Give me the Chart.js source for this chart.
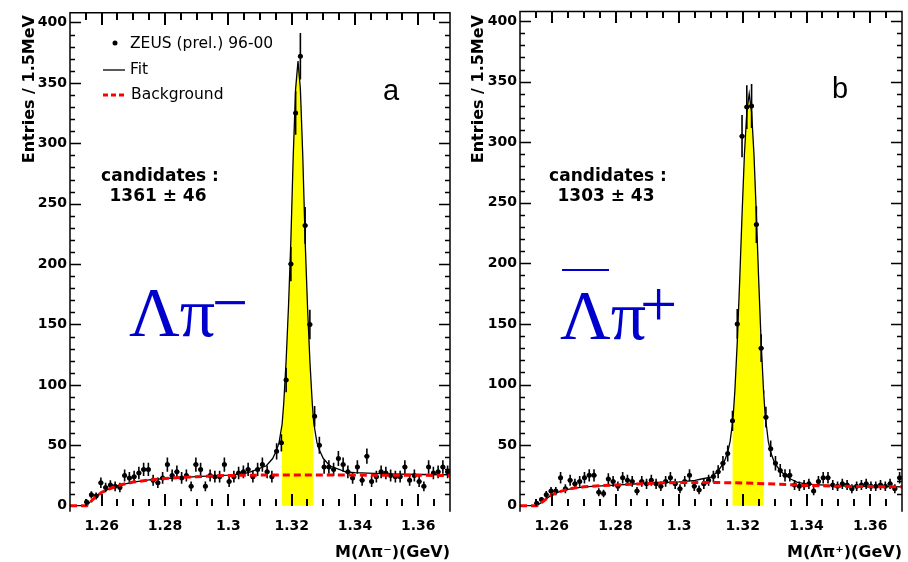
<!DOCTYPE html>
<html>
<head>
<meta charset="utf-8">
<script src="https://cdn.jsdelivr.net/npm/chart.js@4.4.0/dist/chart.umd.min.js"></script>
<style>
  html, body { margin: 0; padding: 0; background: #fff; }
  #wrap { position: relative; width: 908px; height: 562px; overflow: hidden; }
  .panel { position: absolute; top: 0; width: 454px; height: 562px; }
  #panelA { left: 0; }
  #panelB { left: 454px; }
  .ov { position: absolute; left: 0; top: 0; width: 454px; height: 562px; pointer-events: none; }
</style>
</head>
<body>
<div id="wrap">
  <div class="panel" id="panelA"><canvas id="chartA"></canvas><canvas class="ov" id="ovA" width="454" height="562"></canvas></div>
  <div class="panel" id="panelB"><canvas id="chartB"></canvas><canvas class="ov" id="ovB" width="454" height="562"></canvas></div>
</div>
<script>
// histogram: 80 bins of 1.5 MeV starting at 1.25 GeV
const binStart = 1.25;
const binWidth = 0.0015;
const massMin = 1.25;
const massMax = 1.37;

const xTickValues = [1.26, 1.28, 1.30, 1.32, 1.34, 1.36];
const xTickLabels = ['1.26', '1.28', '1.3', '1.32', '1.34', '1.36'];
const xMinorTicks = [1.255, 1.26, 1.265, 1.27, 1.275, 1.28, 1.285, 1.29, 1.295, 1.30, 1.305, 1.31,
  1.315, 1.32, 1.325, 1.33, 1.335, 1.34, 1.345, 1.35, 1.355, 1.36, 1.365];
const yTickValues = [0, 50, 100, 150, 200, 250, 300, 350, 400];
const yMinorStep = 10;

// entries per bin, Lambda pi-
const countsA = [null, null, null, 3, 9, 8, 19, 15, 17, 16,
  15, 25, 23, 24, 27, 30, 30, 21, 19, 23,
  34, 25, 28, 23, 25, 16, 34, 30, 16, 25,
  24, 24, 34, 20, 24, 27, 28, 30, 24, 30,
  34, 28, 24, 45, 52, 104, 200, 325, 372, 232,
  150, 74, 50, 32, 32, 30, 39, 34, 28, 23,
  32, 21, 41, 20, 24, 28, 27, 25, 24, 24,
  32, 21, 25, 20, 16, 32, 27, 28, 32, 28];

// entries per bin, anti-Lambda pi+
const countsB = [null, null, null, 2, 5, 9, 12, 12, 23, 14,
  21, 18, 20, 23, 25, 25, 11, 10, 22, 20,
  16, 23, 21, 20, 12, 20, 18, 21, 18, 16,
  20, 23, 18, 14, 20, 25, 16, 13, 18, 21,
  24, 28, 35, 43, 70, 150, 305, 329, 330, 232,
  130, 73, 47, 35, 29, 25, 25, 17, 16, 17,
  18, 12, 20, 23, 23, 17, 16, 18, 17, 14,
  16, 17, 18, 16, 16, 17, 16, 18, 14, 23];

// fit curves
const fitMassA = [1.25, 1.2553, 1.257, 1.26, 1.2625, 1.265, 1.27, 1.275, 1.28, 1.29,
  1.30, 1.305, 1.307, 1.312, 1.314, 1.31525, 1.316, 1.3169, 1.317, 1.3175,
  1.31825, 1.319, 1.31975, 1.3205, 1.32125, 1.322, 1.32275, 1.3235, 1.32425, 1.325,
  1.32575, 1.3265, 1.3269, 1.327, 1.328, 1.32875, 1.330, 1.332, 1.337, 1.34,
  1.35, 1.36, 1.37];
const fitA = [0, 0, 5, 11, 14, 16.5, 19.5, 21.3, 22.5, 24,
  25.2, 26.5, 28, 33, 39, 46, 52, 66, 68, 85,
  120, 165, 220, 290, 345, 368, 345, 290, 220, 165,
  120, 85, 71, 68, 52, 46, 39, 33, 28, 27.3,
  26.3, 25.8, 25.6];

const fitMassB = [1.25, 1.2553, 1.257, 1.258, 1.26, 1.2625, 1.265, 1.27, 1.28, 1.29,
  1.30, 1.305, 1.307, 1.310, 1.312, 1.314, 1.31525, 1.316, 1.3167, 1.317,
  1.3175, 1.31825, 1.319, 1.31975, 1.3205, 1.32125, 1.322, 1.32275, 1.3235, 1.32425,
  1.325, 1.32575, 1.3265, 1.3266, 1.327, 1.328, 1.32875, 1.330, 1.332, 1.335,
  1.337, 1.34, 1.35, 1.36, 1.37];
const fitB = [0, 0, 3, 5, 9, 11.5, 13.5, 15.5, 17, 18.5,
  19.6, 20.8, 22, 23.5, 28, 35, 44, 53, 67, 75,
  95, 135, 185, 240, 290, 325, 340, 325, 290, 240,
  185, 135, 95, 91, 75, 53, 44, 35, 28, 22,
  19.5, 17.8, 16.4, 15.8, 15.5];

// background curves
const bgMassA = [1.25, 1.2553, 1.257, 1.258, 1.26, 1.2625, 1.265, 1.2675, 1.27, 1.275, 1.28,
  1.285, 1.29, 1.295, 1.30, 1.31, 1.32, 1.33, 1.34, 1.35, 1.36, 1.37];
const bgA = [0, 0, 4.5, 7, 11, 14, 16.5, 18.2, 19.5, 21.3, 22.5,
  23.4, 24, 24.6, 25, 25.3, 25.4, 25.4, 25.3, 25.2, 25.1, 25];

const bgMassB = [1.25, 1.2553, 1.257, 1.258, 1.26, 1.2625, 1.265, 1.2675, 1.27, 1.275, 1.28,
  1.285, 1.29, 1.295, 1.30, 1.31, 1.32, 1.33, 1.34, 1.35, 1.36, 1.37];
const bgB = [0, 0, 3, 5, 9, 11.5, 13.5, 14.7, 15.5, 16.4, 17,
  17.6, 18.3, 18.8, 19.2, 19.2, 18.7, 17.8, 16.7, 16, 15.7, 15.5];

// signal window (yellow)
const bandA = [1.3169, 1.3269];
const bandB = [1.3167, 1.3266];

const helv = '"DejaVu Sans", sans-serif';
const times = '"Liberation Serif", "Times New Roman", serif';

function put(ctx, str, x, y, font, color, align, baseline) {
    ctx.font = font;
    ctx.fillStyle = color || '#000';
    ctx.textAlign = align || 'left';
    ctx.textBaseline = baseline || 'alphabetic';
    ctx.fillText(str, x, y);
}

// inward x ticks: along the top and rising from y = 0
function drawXTicks(ctx, chart) {
    const xs = chart.scales.x, ys = chart.scales.y;
    const top = Math.round(chart.chartArea.top);
    const y0 = Math.round(ys.getPixelForValue(0));
    ctx.save();
    ctx.fillStyle = '#000';
    xMinorTicks.forEach((m, k) => {
        const len = (k % 4 === 1) ? 12 : 7;
        const px = Math.round(xs.getPixelForValue(m)) - 1;
        ctx.fillRect(px, top, 2, len);
        ctx.fillRect(px, y0 - len, 2, len);
    });
    ctx.restore();
}

function panelPlugin(cfg) {
    return {
        id: 'panel' + cfg.letter,
        afterDatasetDraw(chart, args) {
            const ds = chart.data.datasets[args.index];
            if (!ds.errorBars) return;
            const ctx = chart.ctx;
            const xs = chart.scales.x, ys = chart.scales.y;
            ctx.save();
            ctx.strokeStyle = '#000';
            ctx.lineWidth = 1.6;
            ds.data.forEach(p => {
                const err = Math.sqrt(p.y);
                const px = xs.getPixelForValue(p.x);
                const py = ys.getPixelForValue(p.y);
                ctx.beginPath();
                ctx.moveTo(px, ys.getPixelForValue(Math.max(0, p.y - err)));
                ctx.lineTo(px, ys.getPixelForValue(p.y + err));
                ctx.moveTo(xs.getPixelForValue(p.x - binWidth / 2), py);
                ctx.lineTo(xs.getPixelForValue(p.x + binWidth / 2), py);
                ctx.stroke();
            });
            ctx.restore();
        },
        afterDraw(chart) {
            const ctx = chart.ctx;
            const area = chart.chartArea;
            const ys = chart.scales.y;
            const L = area.left, R = area.right, T = area.top, B = area.bottom;
            ctx.save();
            ctx.setLineDash([]);

            // frame (no bottom line, as in the original)
            ctx.strokeStyle = '#000';
            ctx.lineWidth = 1.5;
            ctx.beginPath();
            ctx.moveTo(L, B);
            ctx.lineTo(L, T);
            ctx.lineTo(R, T);
            ctx.lineTo(R, B);
            ctx.stroke();

            drawXTicks(ctx, chart);

            // inward y ticks (left and right)
            ctx.lineWidth = 1.5;
            for (let v = yMinorStep; v <= 400; v += yMinorStep) {
                const len = v % 50 === 0 ? 11 : 5;
                const py = Math.round(ys.getPixelForValue(v)) + 0.5;
                ctx.beginPath();
                ctx.moveTo(L, py);
                ctx.lineTo(L + len, py);
                ctx.moveTo(R, py);
                ctx.lineTo(R - len, py);
                ctx.stroke();
            }

            // axis titles
            ctx.save();
            ctx.translate(cfg.yTitleX, 15);
            ctx.rotate(-Math.PI / 2);
            put(ctx, 'Entries / 1.5MeV', 0, 0, 'bold 16px ' + helv, '#000', 'right', 'middle');
            ctx.restore();
            put(ctx, cfg.xTitle, R, 553, 'bold 16px ' + helv, '#000', 'right', 'middle');

            // panel letter and candidates
            put(ctx, cfg.letter, cfg.letterX, cfg.letterY, '29px "Liberation Sans", sans-serif', '#000', 'center');
            put(ctx, 'candidates :', cfg.candX, 177, 'bold 17px ' + helv, '#000', 'center', 'middle');
            put(ctx, cfg.candText, cfg.candX - 2, 197, 'bold 17px ' + helv, '#000', 'center', 'middle');

            // big blue label
            const blue = '#0000cc';
            put(ctx, 'Λπ', cfg.bigX, cfg.bigY, '70px ' + times, blue);
            if (cfg.charge === '-') {
                put(ctx, '−', cfg.bigX + 83, cfg.bigY - 12, '64px ' + times, blue);
            } else {
                put(ctx, '+', cfg.bigX + 80, cfg.bigY - 13, '66px ' + times, blue);
                ctx.strokeStyle = blue;
                ctx.lineWidth = 2;
                ctx.beginPath();
                ctx.moveTo(cfg.bigX + 2, 270);
                ctx.lineTo(cfg.bigX + 49, 270);
                ctx.stroke();
            }

            // legend (panel a only)
            if (cfg.legend) {
                ctx.fillStyle = '#000';
                ctx.beginPath();
                ctx.arc(115, 43, 2.5, 0, Math.PI * 2);
                ctx.fill();
                put(ctx, 'ZEUS (prel.) 96-00', 130, 44, '15.5px ' + helv, '#000', 'left', 'middle');
                ctx.strokeStyle = '#000';
                ctx.lineWidth = 1.3;
                ctx.beginPath();
                ctx.moveTo(103, 70); ctx.lineTo(125, 70);
                ctx.stroke();
                put(ctx, 'Fit', 130, 70, '15.5px ' + helv, '#000', 'left', 'middle');
                ctx.strokeStyle = '#ff0000';
                ctx.lineWidth = 3;
                ctx.setLineDash([5, 3]);
                ctx.beginPath();
                ctx.moveTo(103, 95); ctx.lineTo(126, 95);
                ctx.stroke();
                ctx.setLineDash([]);
                put(ctx, 'Background', 131, 95, '15.5px ' + helv, '#000', 'left', 'middle');
            }
            ctx.restore();
        }
    };
}

function drawPanel(canvasId, cfg) {
    const points = [];
    cfg.counts.forEach((n, i) => {
        if (n !== null) points.push({ x: binStart + binWidth * (i + 0.5), y: n });
    });
    const fitPts = cfg.fitMass.map((m, i) => ({ x: m, y: cfg.fit[i] }));
    const bandPts = fitPts.filter(p => p.x >= cfg.band[0] - 1e-9 && p.x <= cfg.band[1] + 1e-9);
    const bgPts = cfg.bgMass.map((m, i) => ({ x: m, y: cfg.bg[i] }));

    return new Chart(document.getElementById(canvasId), {
        type: 'scatter',
        data: {
            datasets: [
                { type: 'line', data: bandPts, fill: 'origin', backgroundColor: '#ffff00',
                  borderWidth: 0, pointRadius: 0, order: 4 },
                { type: 'line', data: fitPts, fill: false, borderColor: '#000', borderWidth: 1.3,
                  pointRadius: 0, order: 3 },
                { data: points, errorBars: true, pointRadius: 2.5, pointBackgroundColor: '#000',
                  pointBorderWidth: 0, order: 2 },
                { type: 'line', data: bgPts, fill: false, borderColor: '#ff0000', borderWidth: 3,
                  borderDash: [7, 4], pointRadius: 0, order: 1 }
            ]
        },
        options: {
            responsive: true,
            maintainAspectRatio: false,
            animation: false,
            devicePixelRatio: 1,
            layout: { padding: { top: cfg.top, right: cfg.padRight, left: 0, bottom: 0 } },
            plugins: { legend: { display: false }, tooltip: { enabled: false } },
            scales: {
                x: {
                    type: 'linear', min: massMin, max: massMax,
                    grid: { display: false, drawTicks: false },
                    border: { display: false },
                    afterFit: s => { s.height = 50.3; },
                    afterBuildTicks: s => { s.ticks = xTickValues.map(v => ({ value: v })); },
                    ticks: {
                        autoSkip: false, maxRotation: 0, padding: 6, color: '#000',
                        font: { family: helv, size: 14, weight: 'bold' },
                        callback: (v, i) => xTickLabels[i]
                    }
                },
                y: {
                    min: -5, max: 408,
                    grid: { display: false, drawTicks: false },
                    border: { display: false },
                    afterFit: s => { s.width = cfg.yAxisWidth; },
                    afterBuildTicks: s => { s.ticks = yTickValues.map(v => ({ value: v })); },
                    ticks: {
                        padding: 3, color: '#000',
                        font: { family: helv, size: 14, weight: 'bold' },
                        callback: v => String(v)
                    }
                }
            }
        },
        plugins: [panelPlugin(cfg)]
    });
}

const chartA = drawPanel('chartA', {
    counts: countsA, fitMass: fitMassA, fit: fitA, bgMass: bgMassA, bg: bgA, band: bandA,
    top: 12.8, padRight: 2, yAxisWidth: 70, yTitleX: 30,
    xTitle: 'M(Λπ⁻)(GeV)', letter: 'a', letterX: 391, letterY: 100,
    candX: 160, candText: '1361 ± 46', bigX: 129, bigY: 336, charge: '-', legend: true
});

const chartB = drawPanel('chartB', {
    counts: countsB, fitMass: fitMassB, fit: fitB, bgMass: bgMassB, bg: bgB, band: bandB,
    top: 9.3, padRight: 6, yAxisWidth: 66, yTitleX: 25,
    xTitle: 'M(Λ̄π⁺)(GeV)', letter: 'b', letterX: 386, letterY: 98,
    candX: 154, candText: '1303 ± 43', bigX: 106, bigY: 339, charge: '+', legend: false
});

// repeat the x ticks on a plain overlay, using each chart's own x scale
[[chartA, 'ovA'], [chartB, 'ovB']].forEach(([chart, id]) => {
    const ov = document.getElementById(id);
    drawXTicks(ov.getContext('2d'), chart);
});
</script>
</body>
</html>
